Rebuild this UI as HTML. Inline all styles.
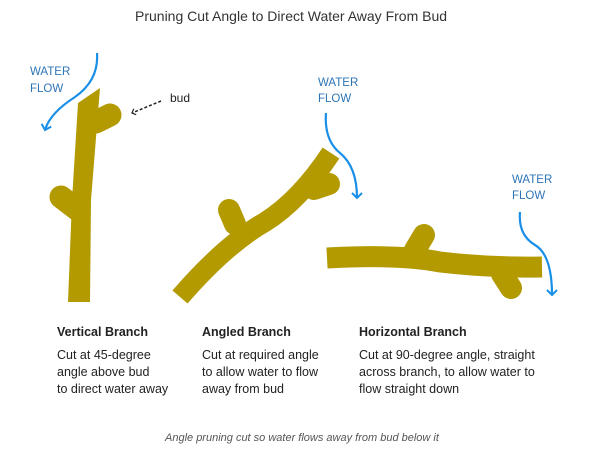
<!DOCTYPE html>
<html><head><meta charset="utf-8"><style>
html,body{margin:0;padding:0;background:#fff;}
svg{display:block;font-family:"Liberation Sans",sans-serif;}
</style></head><body>
<svg width="611" height="468" viewBox="0 0 611 468" xmlns="http://www.w3.org/2000/svg">
<defs>
<marker id="ah" viewBox="0 0 12 12" refX="6" refY="6" markerWidth="12" markerHeight="12" orient="auto" markerUnits="userSpaceOnUse">
<path d="M1,1 L6,6 L1,11" fill="none" stroke="#1a8fe8" stroke-width="2"/>
</marker>
<marker id="ah2" viewBox="0 0 10 10" refX="5" refY="5" markerWidth="8" markerHeight="8" orient="auto" markerUnits="userSpaceOnUse">
<path d="M1,1 L5,5 L1,9" fill="none" stroke="#222" stroke-width="1.5"/>
</marker>
</defs>
<text x="135" y="21" font-size="14" fill="#333">Pruning Cut Angle to Direct Water Away From Bud</text>

<g fill="#b39a00" stroke="#b39a00" stroke-linecap="round">
<!-- vertical -->
<polygon points="68,302 90,302 91,200 100,88 78,103 72,200" stroke="none"/>
<line x1="96" y1="122" x2="110" y2="115" stroke-width="23"/>
<line x1="78" y1="210" x2="61" y2="197" stroke-width="23"/>
<!-- angled -->
<path d="M180,297 Q225,245 265,222 Q300,200 331,153" fill="none" stroke-width="20" stroke-linecap="butt"/>
<line x1="314" y1="189" x2="329" y2="184" stroke-width="22"/>
<line x1="235" y1="224" x2="229" y2="210" stroke-width="22"/>
<!-- horizontal -->
<path d="M327,258 Q400,254 440,262 Q490,268 542,267" fill="none" stroke-width="21" stroke-linecap="butt"/>
<line x1="415" y1="250" x2="424" y2="235" stroke-width="22"/>
<line x1="502" y1="274" x2="511" y2="288" stroke-width="22"/>
</g>

<g fill="none" stroke="#1a8fe8" stroke-width="2.2">
<path d="M97,53 Q99,80 75,97 Q50,113 45,130" marker-end="url(#ah)"/>
<path d="M326,113 Q324,140 340,153 Q357,167 357,198" marker-end="url(#ah)"/>
<path d="M520,212 Q518,235 535,245 Q552,255 552,295" marker-end="url(#ah)"/>
</g>

<line x1="161" y1="101" x2="132" y2="113" stroke="#222" stroke-width="1.5" stroke-dasharray="3,2" marker-end="url(#ah2)"/>
<text x="170" y="102" font-size="12" fill="#222">bud</text>

<g font-size="11.5" fill="#2e75b6">
<text x="30" y="75">WATER</text><text x="30" y="92">FLOW</text>
<text x="318" y="86">WATER</text><text x="318" y="102">FLOW</text>
<text x="512" y="183">WATER</text><text x="512" y="199">FLOW</text>
</g>

<g font-size="12.5" fill="#222">
<text x="57" y="336" font-weight="bold">Vertical Branch</text>
<text x="57" y="359">Cut at 45-degree</text>
<text x="57" y="376">angle above bud</text>
<text x="57" y="393">to direct water away</text>
<text x="202" y="336" font-weight="bold">Angled Branch</text>
<text x="202" y="359">Cut at required angle</text>
<text x="202" y="376">to allow water to flow</text>
<text x="202" y="393">away from bud</text>
<text x="359" y="336" font-weight="bold">Horizontal Branch</text>
<text x="359" y="359">Cut at 90-degree angle, straight</text>
<text x="359" y="376">across branch, to allow water to</text>
<text x="359" y="393">flow straight down</text>
</g>
<text x="165" y="441" font-size="11" font-style="italic" fill="#555">Angle pruning cut so water flows away from bud below it</text>
</svg>
</body></html>
